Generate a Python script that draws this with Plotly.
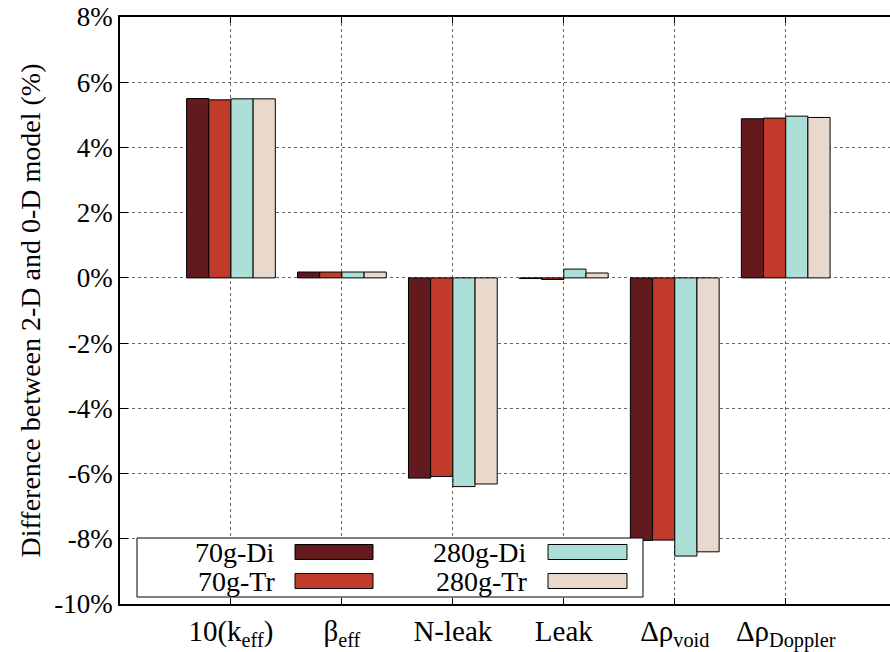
import plotly.graph_objects as go

categories = ["10(k<sub>eff</sub>)", "β<sub>eff</sub>", "N-leak", "Leak",
              "Δρ<sub>void</sub>", "Δρ<sub>Doppler</sub>"]
series_names = ["70g-Di", "70g-Tr", "280g-Di", "280g-Tr"]
v_70g_di = [5.50, 0.18, -6.14, -0.02, -8.05, 4.88]
v_70g_tr = [5.46, 0.18, -6.09, -0.05, -8.04, 4.90]
v_280g_di = [5.49, 0.18, -6.40, 0.27, -8.53, 4.96]
v_280g_tr = [5.49, 0.18, -6.32, 0.15, -8.40, 4.92]
colors = ["#621a1f", "#c23a2c", "#abdfd8", "#e8d9cc"]
ytick_vals = [-10, -8, -6, -4, -2, 0, 2, 4, 6, 8]
ytick_text = [f"{v}%" for v in ytick_vals]

W, H = 890, 652
L, R, T, B = 120, 0, 17, 48
FONT = "Liberation Serif"

fig = go.Figure()
xs = list(range(len(categories)))
for name, vals, c in zip(series_names, [v_70g_di, v_70g_tr, v_280g_di, v_280g_tr], colors):
    fig.add_trace(go.Bar(x=xs, y=vals, name=name, marker=dict(color=c, line=dict(color="black", width=1)),
                         showlegend=False))

fig.update_layout(
    width=W, height=H, margin=dict(l=L, r=R, t=T, b=B),
    paper_bgcolor="white", plot_bgcolor="white",
    barmode="group", bargap=0.2, bargroupgap=0,
    font=dict(family=FONT, size=27, color="black"),
)
fig.update_xaxes(range=[-1, 5.94], tickvals=xs, ticktext=categories,
                 showline=True, linecolor="black", linewidth=1.5, mirror="ticks",
                 ticks="inside", ticklen=6, tickcolor="black",
                 showgrid=True, gridcolor="#666", griddash="dot", gridwidth=1,
                 tickfont=dict(family=FONT, size=29))
fig.update_yaxes(range=[-10, 8], tickvals=ytick_vals, ticktext=ytick_text,
                 showline=True, linecolor="black", linewidth=1.5,
                 ticks="inside", ticklen=8, tickcolor="black",
                 showgrid=True, gridcolor="#666", griddash="dot", gridwidth=1,
                 zeroline=False,
                 tickfont=dict(family=FONT, size=27),
                 title=dict(text="Difference between 2-D and 0-D model (%)",
                            font=dict(family=FONT, size=28), standoff=6))

pw = W - L - R
ph = H - T - B
def px(x):
    return (x - L) / pw
def py(y):
    return (H - B - y) / ph

shapes = [dict(type="rect", xref="paper", yref="paper", x0=px(137), x1=px(643), y0=py(597), y1=py(538),
               fillcolor="white", line=dict(color="black", width=1), layer="above")]
annotations = []
legend_layout = [(277, 295, 373, 552), (277, 295, 373, 581), (529, 548, 627, 552), (529, 548, 627, 581)]
for name, c, (tx, sx0, sx1, cy) in zip(series_names, colors, legend_layout):
    shapes.append(dict(type="rect", xref="paper", yref="paper", x0=px(sx0), x1=px(sx1),
                       y0=py(cy + 7.5), y1=py(cy - 7.5), fillcolor=c,
                       line=dict(color="black", width=1), layer="above"))
    annotations.append(dict(text=name, xref="paper", yref="paper", x=px(tx), y=py(cy),
                            xanchor="right", yanchor="middle", showarrow=False,
                            font=dict(family=FONT, size=28, color="black")))
fig.update_layout(shapes=shapes, annotations=annotations)

fig.write_html("out.html")
